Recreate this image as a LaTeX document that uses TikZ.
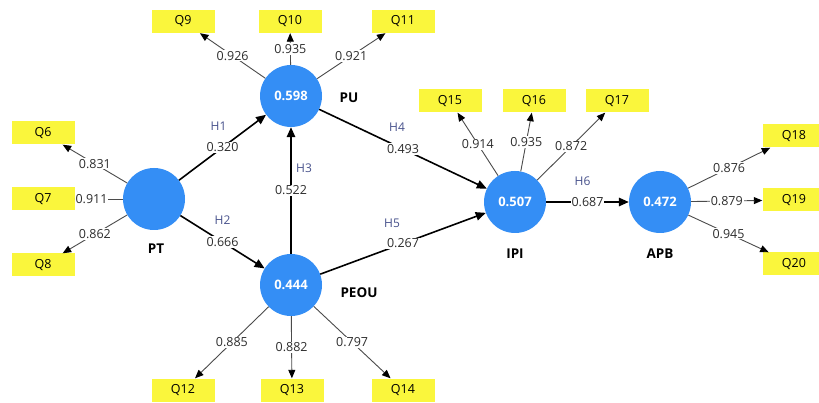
\documentclass[tikz,border=0pt]{standalone}
\usepackage{fontspec}
\setmainfont{Open Sans}
\usetikzlibrary{arrows.meta}
\definecolor{lvblue}{RGB}{52,142,245}
\definecolor{qyellow}{RGB}{250,246,60}
\definecolor{hblue}{RGB}{72,82,140}
\definecolor{loadgray}{RGB}{75,75,75}
\definecolor{valtext}{RGB}{45,45,45}
\begin{document}
\begin{tikzpicture}[x=1pt,y=-1pt,
  lv/.style={circle,fill=lvblue,minimum size=62pt,inner sep=0pt,text=white,font=\bfseries\fontsize{13}{15}\selectfont},
  ind/.style={fill=qyellow,minimum width=63pt,minimum height=23pt,inner sep=0pt,font=\fontsize{12.5}{14}\selectfont},
  lvname/.style={font=\bfseries\fontsize{13.5}{16}\selectfont},
  struct/.style={draw=black,line width=1.6pt,-{Triangle[length=10pt,width=8.5pt]}},
  load/.style={draw=loadgray,line width=0.9pt,-{Triangle[length=8.5pt,width=7pt,color=black]}},
  val/.style={fill=white,inner sep=1pt,font=\fontsize{12.5}{14}\selectfont,text=valtext},
  hyp/.style={text=hblue,font=\fontsize{12}{14}\selectfont}
]
\useasboundingbox (0,0) rectangle (819,403);
\fill[white] (0,0) rectangle (819,403);

% latent variables
\node[lv] (PT) at (154,199) {};
\node[lv] (PU) at (291,96) {0.598};
\node[lv] (PEOU) at (291,285) {0.444};
\node[lv] (IPI) at (515,202) {0.507};
\node[lv] (APB) at (660,202) {0.472};

\node[lvname] (nPT) at (156,249) {PT};
\node[lvname] (nPU) at (349,98) {PU};
\node[lvname] (nPEOU) at (359,293) {PEOU};
\node[lvname] (nIPI) at (515,254) {IPI};
\node[lvname] (nAPB) at (660,254) {APB};

% indicators
\node[ind] (Q6) at (43,133) {Q6};
\node[ind] (Q7) at (43,199) {Q7};
\node[ind] (Q8) at (43,265) {Q8};
\node[ind] (Q9) at (183,21.5) {Q9};
\node[ind] (Q10) at (290,21.5) {Q10};
\node[ind] (Q11) at (403,21.5) {Q11};
\node[ind] (Q12) at (183,390) {Q12};
\node[ind] (Q13) at (292,390) {Q13};
\node[ind] (Q14) at (403,390) {Q14};
\node[ind] (Q15) at (450,101) {Q15};
\node[ind] (Q16) at (534,101) {Q16};
\node[ind] (Q17) at (617,101) {Q17};
\node[ind] (Q18) at (794,136) {Q18};
\node[ind] (Q19) at (794,200) {Q19};
\node[ind] (Q20) at (794,264) {Q20};

% structural paths
\draw[struct] (PT) -- node[val] {0.320} node[hyp,xshift=-4pt,yshift=21pt] {H1} (PU);
\draw[struct] (PT) -- node[val] {0.666} node[hyp,yshift=22pt] {H2} (PEOU);
\draw[struct] (PEOU) -- node[val] {0.522} node[hyp,xshift=13pt,yshift=22pt] {H3} (PU);
\draw[struct] (PU) -- node[val] {0.493} node[hyp,xshift=-6pt,yshift=22pt] {H4} (IPI);
\draw[struct] (PEOU) -- node[val] {0.267} node[hyp,xshift=-11pt,yshift=20pt] {H5} (IPI);
\draw[struct] (IPI) -- node[val] {0.687} node[hyp,xshift=-5pt,yshift=21pt] {H6} (APB);

% loadings
\draw[load] (PT) -- node[val] {0.831} (Q6);
\draw[load] (PT) -- node[val,pos=0.65] {0.911} (Q7);
\draw[load] (PT) -- node[val] {0.862} (Q8);
\draw[load] (PU) -- node[val] {0.926} (Q9);
\draw[load] (PU) -- node[val] {0.935} (Q10);
\draw[load] (PU) -- node[val] {0.921} (Q11);
\draw[load] (PEOU) -- node[val] {0.885} (Q12);
\draw[load] (PEOU) -- node[val] {0.882} (Q13);
\draw[load] (PEOU) -- node[val] {0.797} (Q14);
\draw[load] (IPI) -- node[val] {0.914} (Q15);
\draw[load] (IPI) -- node[val] {0.935} (Q16);
\draw[load] (IPI) -- node[val] {0.872} (Q17);
\draw[load] (APB) -- node[val] {0.876} (Q18);
\draw[load] (APB) -- node[val] {0.879} (Q19);
\draw[load] (APB) -- node[val] {0.945} (Q20);
\end{tikzpicture}
\end{document}
